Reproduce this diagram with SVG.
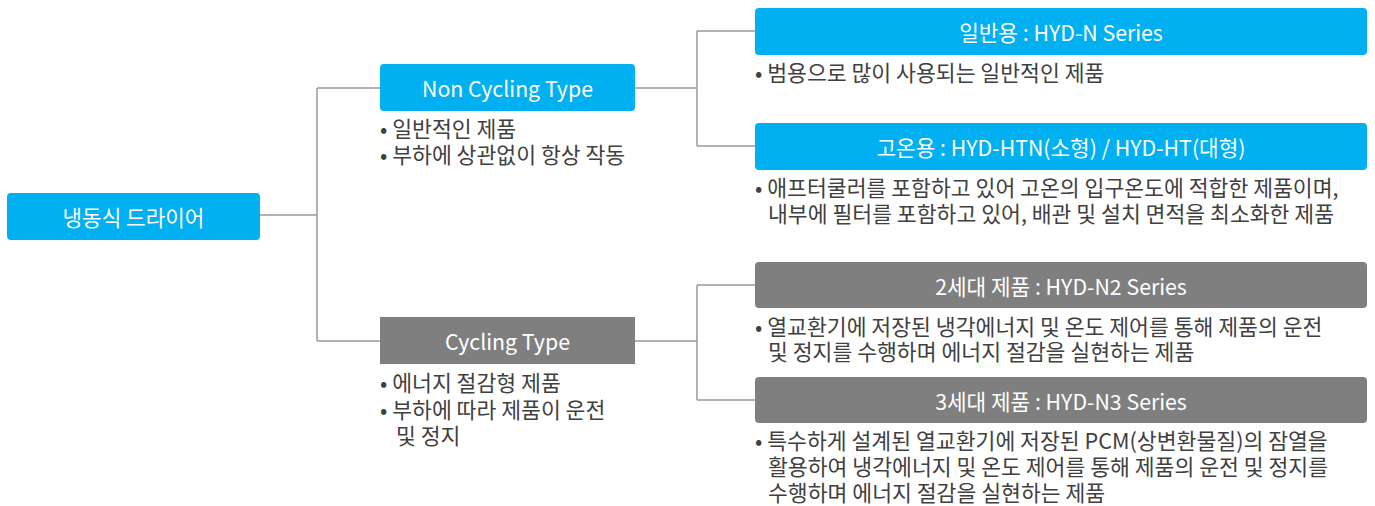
<svg xmlns="http://www.w3.org/2000/svg" width="1375" height="506" viewBox="0 0 1375 506">
<style>
text{font-family:"Noto Sans CJK KR","Noto Sans",sans-serif;}
.bt{fill:#ffffff;font-size:21.3px;text-anchor:middle;dominant-baseline:central;}
.d{fill:#404040;font-size:21.6px;}
.blue{fill:#00b0f0;}
.gray{fill:#7f7f7f;}
.c{fill:none;stroke:#999999;stroke-width:1.5;}
</style>
<rect width="1375" height="506" fill="#ffffff"/>
<g id="connectors">
<path class="c" d="M260 215H317M317 88V341M317 88H380M317 341H380"/>
<path class="c" d="M635 88H697M697 31V146M697 31H755M697 146H755"/>
<path class="c" d="M635 341H697M697 285V400M697 285H755M697 400H755"/>
</g>
<g id="root">
<rect class="blue" x="7" y="193" width="253" height="47" rx="4"/>
<text class="bt" x="133.5" y="216.5">냉동식 드라이어</text>
</g>
<g id="non-cycling">
<rect class="blue" x="380" y="64" width="255" height="47" rx="4"/>
<text class="bt" x="507.5" y="87.5">Non Cycling Type</text>
<text class="d" x="380" y="137">• 일반적인 제품</text>
<text class="d" x="380" y="163">• 부하에 상관없이 항상 작동</text>
</g>
<g id="cycling">
<rect class="gray" x="380" y="317" width="255" height="47"/>
<text class="bt" x="507.5" y="340.5">Cycling Type</text>
<text class="d" x="380" y="391">• 에너지 절감형 제품</text>
<text class="d" x="380" y="418">• 부하에 따라 제품이 운전</text>
<text class="d" x="396" y="444">및 정지</text>
</g>
<g id="general">
<rect class="blue" x="755" y="8" width="612" height="47" rx="4"/>
<text class="bt" x="1061" y="31.5">일반용 : HYD-N Series</text>
<text class="d" x="755" y="81">• 범용으로 많이 사용되는 일반적인 제품</text>
</g>
<g id="high-temp">
<rect class="blue" x="755" y="123" width="612" height="47" rx="4"/>
<text class="bt" x="1061" y="146.5">고온용 : HYD-HTN(소형) / HYD-HT(대형)</text>
<text class="d" x="755" y="196">• 애프터쿨러를 포함하고 있어 고온의 입구온도에 적합한 제품이며,</text>
<text class="d" x="768" y="222">내부에 필터를 포함하고 있어, 배관 및 설치 면적을 최소화한 제품</text>
</g>
<g id="gen2">
<rect class="gray" x="755" y="262" width="612" height="46" rx="4"/>
<text class="bt" x="1061" y="285">2세대 제품 : HYD-N2 Series</text>
<text class="d" x="755" y="335">• 열교환기에 저장된 냉각에너지 및 온도 제어를 통해 제품의 운전</text>
<text class="d" x="768" y="360">및 정지를 수행하며 에너지 절감을 실현하는 제품</text>
</g>
<g id="gen3">
<rect class="gray" x="755" y="377" width="612" height="46" rx="4"/>
<text class="bt" x="1061" y="400">3세대 제품 : HYD-N3 Series</text>
<text class="d" x="755" y="449">• 특수하게 설계된 열교환기에 저장된 PCM(상변환물질)의 잠열을</text>
<text class="d" x="768" y="475">활용하여 냉각에너지 및 온도 제어를 통해 제품의 운전 및 정지를</text>
<text class="d" x="768" y="501">수행하며 에너지 절감을 실현하는 제품</text>
</g>
</svg>
